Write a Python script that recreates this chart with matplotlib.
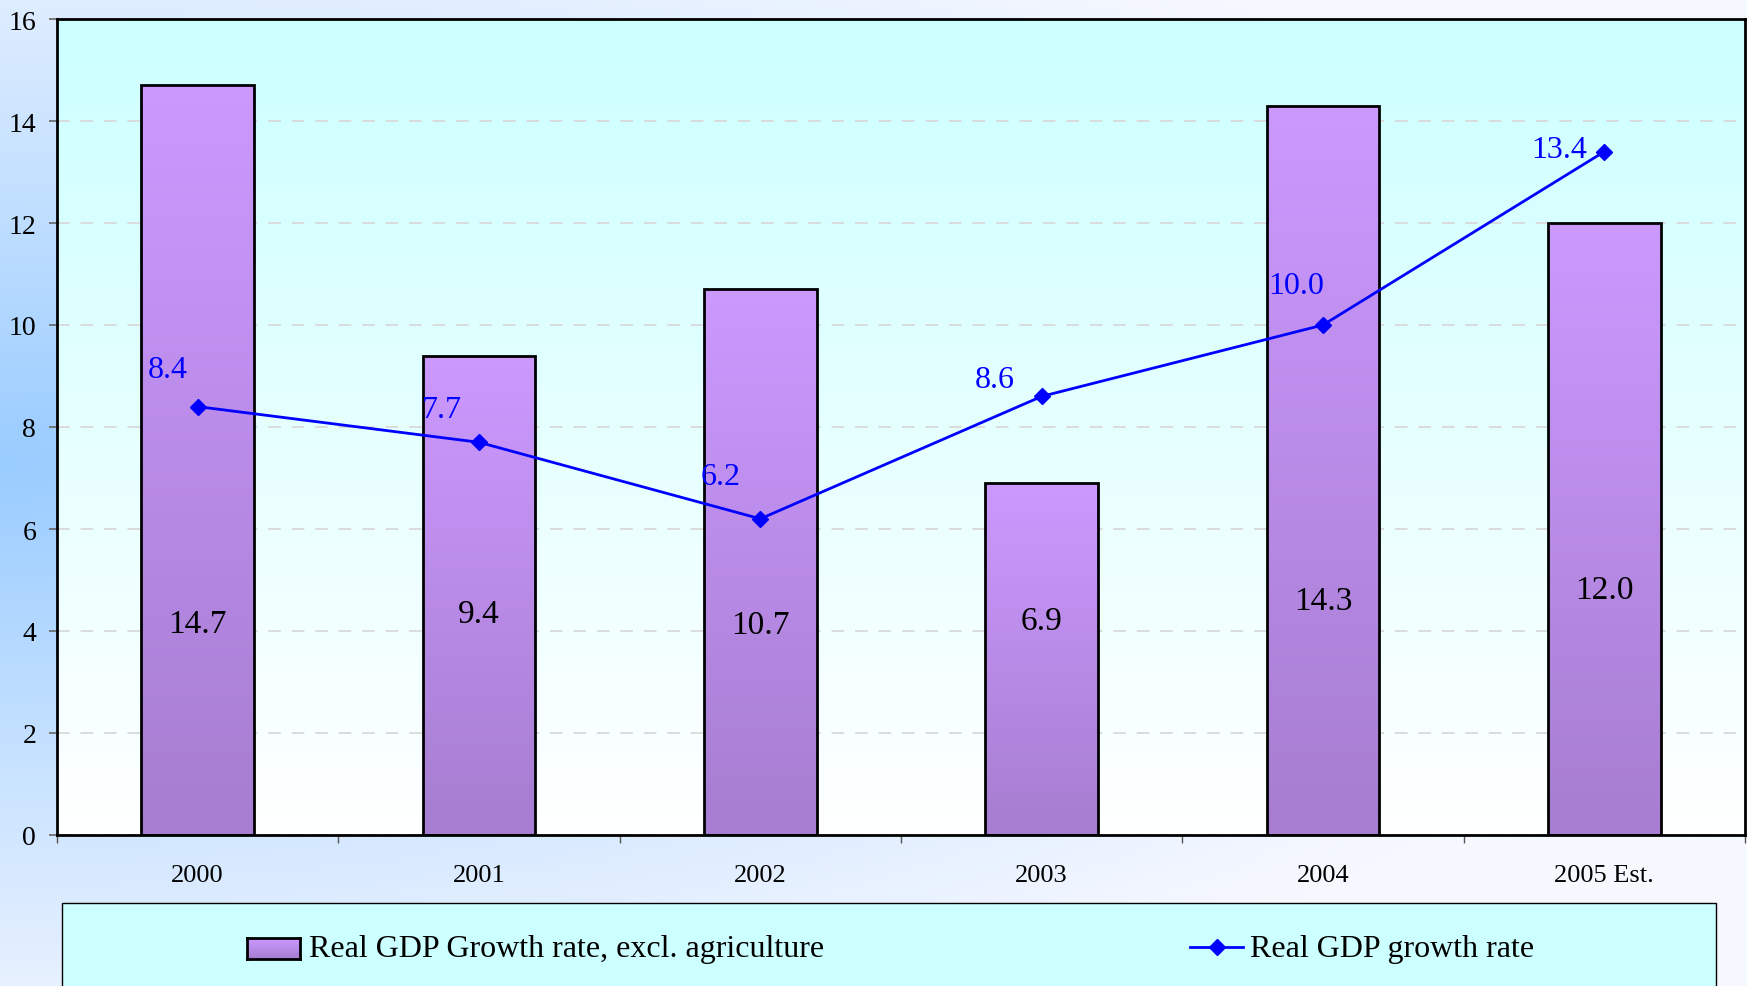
import numpy as np
import matplotlib
matplotlib.use("Agg")
import matplotlib.pyplot as plt
from matplotlib.colors import LinearSegmentedColormap, to_rgb
from matplotlib.patches import Rectangle
from matplotlib.lines import Line2D

# ---- data ----
categories = ["2000", "2001", "2002", "2003", "2004", "2005 Est."]
gdp_excl_agri = [14.7, 9.4, 10.7, 6.9, 14.3, 12.0]
gdp_growth = [8.4, 7.7, 6.2, 8.6, 10.0, 13.4]
bar_label_y = [4.15, 4.33, 4.13, 4.2, 4.6, 4.8]
line_label_offsets = [(-30, 37), (-37, 33), (-40, 42), (-47, 17), (-27, 39), (-45, 2)]
yticks = [0, 2, 4, 6, 8, 10, 12, 14, 16]
label_bars = "Real GDP Growth rate, excl. agriculture"
label_line = "Real GDP growth rate"

W, H = 1747, 987
fig = plt.figure(figsize=(W / 100, H / 100), dpi=100)
serif = ["Liberation Serif", "DejaVu Serif"]

# ---- figure background gradient ----
bg = fig.add_axes([0, 0, 1, 1], zorder=-10)
ny, nx = 200, 300
yy, xx = np.mgrid[0:1:ny * 1j, 0:1:nx * 1j]
r = np.sqrt((xx / 1.0) ** 2 + ((yy - 0.47) / 0.66) ** 2)
w = np.clip(1 - r, 0, 1) ** 1.1
base = np.array(to_rgb("#f6f8ff"))
blue = np.array(to_rgb("#99ccff"))
img = base[None, None, :] * (1 - w[..., None]) + blue[None, None, :] * w[..., None]
bg.imshow(img, extent=[0, 1, 0, 1], aspect="auto", origin="upper")
bg.set_axis_off()

# ---- main axes ----
ax = fig.add_axes([57 / W, 1 - 836 / H, (1745 - 57) / W, (836 - 20) / H])
x = np.arange(len(categories))

# axes background gradient (cyan top -> white bottom)
axgrad = np.linspace(0, 1, 256)[:, None]
cm_ax = LinearSegmentedColormap.from_list("axbg", ["#ccffff", "#ffffff"])
ax.imshow(axgrad, extent=[-0.5, 5.5, 0, 16], aspect="auto", cmap=cm_ax,
          origin="upper", zorder=0)

# bars with per-bar gradient
cm_bar = LinearSegmentedColormap.from_list("bar", ["#cc99ff", "#a67dd0"])
bars = ax.bar(x, gdp_excl_agri, width=0.4, facecolor="none",
              edgecolor="black", linewidth=2.0, zorder=3)
for b in bars:
    x0 = b.get_x()
    im = ax.imshow(axgrad, extent=[x0, x0 + b.get_width(), 0, b.get_height()],
                   aspect="auto", cmap=cm_bar, origin="upper", zorder=2)
    im.set_clip_path(b)

# line
ax.plot(x, gdp_growth, color="#0000ff", lw=2.0, marker="D", ms=8,
        zorder=4)

# labels
for xi, v, ly in zip(x, gdp_excl_agri, bar_label_y):
    ax.text(xi, ly, f"{v:.1f}", ha="center", va="center", fontsize=24,
            family=serif, color="black", zorder=5)
for xi, v, off in zip(x, gdp_growth, line_label_offsets):
    ax.annotate(f"{v:.1f}", (xi, v), xytext=off, textcoords="offset pixels",
                ha="center", va="center", fontsize=23, family=serif,
                color="#0000ff", zorder=5)

ax.set_xlim(-0.5, 5.5)
ax.set_ylim(0, 16)
ax.set_yticks(yticks)
ax.set_yticklabels([str(t) for t in yticks], family=serif, fontsize=20)
ax.set_xticks(x)
ax.set_xticklabels(categories, family=serif, fontsize=19)
ax.set_xticks(np.arange(-0.5, 6.0, 1.0), minor=True)
ax.tick_params(axis="x", which="major", length=0, pad=21)
ax.tick_params(axis="x", which="minor", length=6, width=1, color="#555555",
               direction="out")
ax.tick_params(axis="y", length=6, width=1.2, color="#666666",
               direction="out", pad=9)
ax.set_axisbelow(True)
ax.yaxis.grid(True, color="#d9d9d9", lw=1.3, linestyle=(0, (7, 6)), zorder=1)
for s in ax.spines.values():
    s.set_color("black")
    s.set_linewidth(2.0)
    s.set_zorder(6)

# ---- legend (drawn manually) ----
lg = Rectangle((62 / W, -0.05), (1716 - 62) / W, (1 - 904 / H) + 0.05,
               transform=fig.transFigure, facecolor="#ccffff",
               edgecolor="black", lw=1.0, zorder=5)
fig.patches.append(lg)

ycen = 1 - 950 / H
sw = fig.add_axes([247 / W, 1 - 960 / H, (300 - 247) / W, 21 / H], zorder=6)
sw.imshow(axgrad, extent=[0, 1, 0, 1], aspect="auto", cmap=cm_bar, origin="upper")
sw.set_xticks([])
sw.set_yticks([])
for s in sw.spines.values():
    s.set_linewidth(2)
    s.set_color("black")
fig.text(309 / W, ycen, label_bars, family=serif, fontsize=23,
         ha="left", va="center", zorder=7)

fig.add_artist(Line2D([1190 / W, 1243 / W], [ycen + 0.002, ycen + 0.002],
                      transform=fig.transFigure, color="#0000ff", lw=2.0,
                      zorder=7))
fig.add_artist(Line2D([1216.5 / W], [ycen + 0.002], transform=fig.transFigure,
                      color="#0000ff", marker="D", ms=8, zorder=7))
fig.text(1250 / W, ycen, label_line, family=serif, fontsize=23,
         ha="left", va="center", zorder=7)

fig.savefig("out.png", dpi=100)
